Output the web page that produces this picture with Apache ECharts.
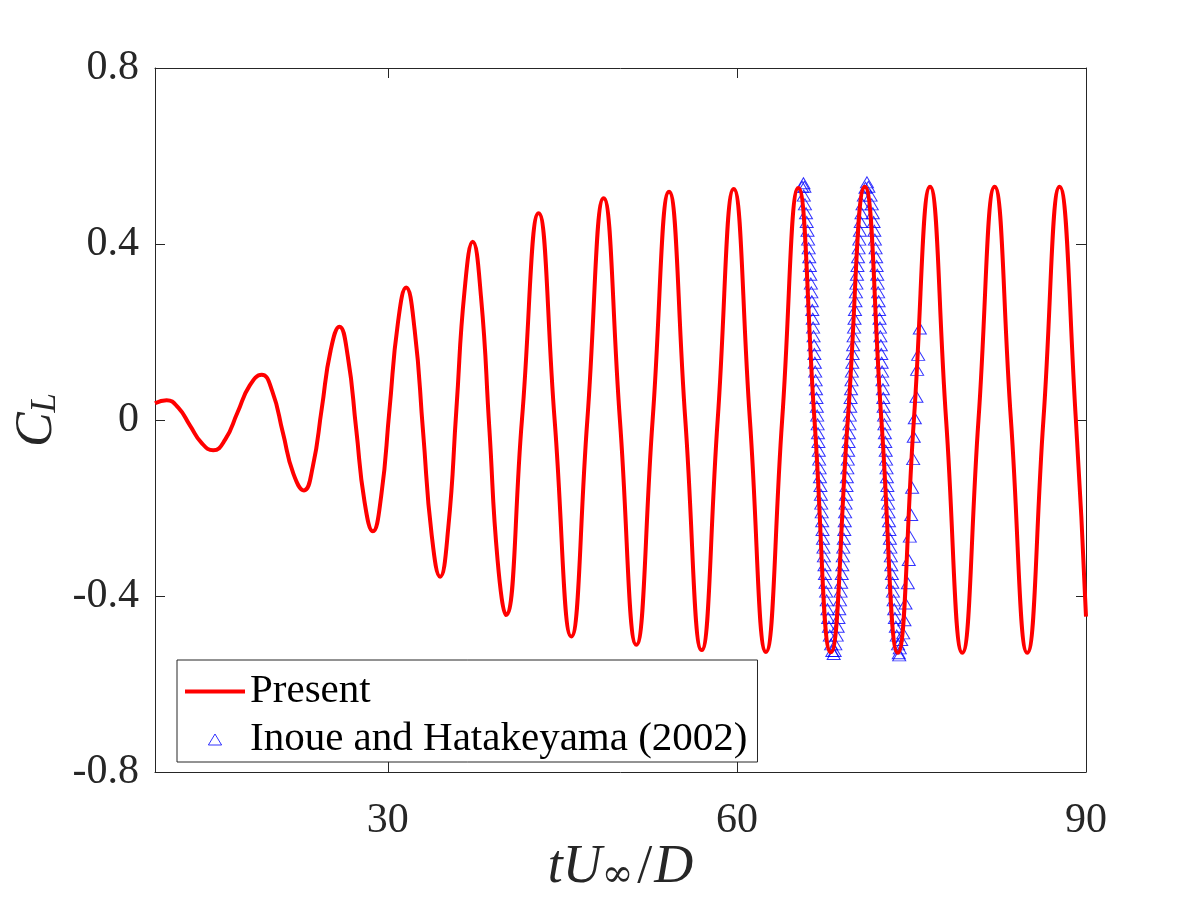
<!DOCTYPE html>
<html>
<head>
<meta charset="utf-8">
<script src="https://cdn.jsdelivr.net/npm/echarts@6/dist/echarts.min.js"></script>
<style>
html,body{margin:0;padding:0;background:#ffffff;}
#chart{width:1200px;height:900px;}
</style>
</head>
<body>
<div id="chart"></div>
<script>
// ---- Data ----
const seriesNames = ['Present', 'Inoue and Hatakeyama (2002)'];

// Present (red line): points (extrema, mid-swing and intermediate points)
const presentT = [10, 11.0, 12.0, 13.0, 14.0, 15.0, 16.04, 17.09, 18.13, 19.17, 20.08, 20.99, 21.89, 22.8,
  23.56, 24.33, 25.09, 25.85, 26.57, 27.29, 28.0, 28.72, 29.44, 30.15, 30.87, 31.58, 32.31, 33.04, 33.77, 34.5,
  35.2, 35.9, 36.6, 37.3, 38.01, 38.73, 39.44, 40.15,
  41.53, 42.96, 44.34, 45.77, 47.15, 48.55, 49.95, 51.36, 52.76, 54.17, 55.57, 56.97, 58.35, 59.73,
  61.12, 62.5, 63.89, 65.28, 66.67, 68.07, 69.53, 71.0, 72.42, 73.83, 75.21, 76.6, 77.98, 79.37, 80.76, 82.15,
  83.55, 84.95, 86.34, 87.73, 89.13, 90];
const presentCL = [0.038, 0.045, 0.028, -0.012, -0.052, -0.069, -0.044, 0.017, 0.078, 0.103, 0.065, -0.029, -0.122, -0.160,
  -0.106, 0.026, 0.158, 0.212, 0.144, -0.021, -0.185, -0.253, -0.172, 0.024, 0.220, 0.301, 0.205, -0.028, -0.260, -0.356,
  -0.245, 0.025, 0.294, 0.405, 0.281, -0.019, -0.319, -0.443,
  0, 0.470, 0, -0.492, 0, 0.504, 0, -0.511, 0, 0.519, 0, -0.523, 0, 0.525,
  0, -0.527, 0, 0.527, 0, -0.528, 0, 0.530, 0, -0.529, 0, 0.530, 0, -0.529, 0, 0.530,
  0, -0.529, 0, 0.530, 0, -0.447];

// Inoue and Hatakeyama (2002) (blue triangles)
const inoueT = [
  65.6, 65.72, 65.8,
  65.75, 65.85, 65.94, 66.00, 66.07, 66.12, 66.17, 66.22, 66.27, 66.31, 66.36, 66.40, 66.44, 66.48, 66.52, 66.55, 66.59, 66.63, 66.66, 66.70,
  66.73, 66.77, 66.80, 66.84, 66.87, 66.90, 66.94, 66.97, 67.01, 67.04, 67.07, 67.11, 67.14, 67.18, 67.22, 67.25, 67.29, 67.33, 67.36, 67.40,
  67.44, 67.48, 67.53, 67.57, 67.62, 67.67, 67.72, 67.78, 67.84, 67.91, 67.99, 68.10,
  68.2, 68.32, 68.4,
  68.46, 68.58, 68.66, 68.73, 68.80, 68.86, 68.91, 68.96, 69.01, 69.06, 69.10, 69.14, 69.19, 69.23, 69.27, 69.30, 69.34, 69.38, 69.42, 69.45,
  69.49, 69.53, 69.56, 69.60, 69.63, 69.67, 69.70, 69.74, 69.77, 69.81, 69.85, 69.88, 69.92, 69.95, 69.99, 70.03, 70.07, 70.11, 70.15, 70.19,
  70.23, 70.27, 70.32, 70.36, 70.41, 70.46, 70.52, 70.57, 70.64, 70.71, 70.80, 70.91,
  71.05, 71.18, 71.3,
  71.49, 71.59, 71.68, 71.75, 71.81, 71.86, 71.92, 71.97, 72.01, 72.06, 72.10, 72.14, 72.18, 72.22, 72.26, 72.30, 72.33, 72.37, 72.41, 72.44,
  72.48, 72.51, 72.55, 72.58, 72.61, 72.65, 72.68, 72.72, 72.75, 72.79, 72.82, 72.86, 72.89, 72.93, 72.96, 73.00, 73.03, 73.07, 73.11, 73.15,
  73.19, 73.23, 73.27, 73.32, 73.36, 73.41, 73.47, 73.52, 73.58, 73.66, 73.74, 73.85,
  73.95,
  73.91, 74.0, 74.12, 74.29, 74.4, 74.49, 74.69, 74.77, 74.86, 74.98, 75.06, 75.15, 75.2, 75.29, 75.43, 75.49, 75.58, 75.72
];
const inoueCL = [
  0.53, 0.538, 0.53,
  0.51, 0.49, 0.47, 0.45, 0.43, 0.41, 0.39, 0.37, 0.35, 0.33, 0.31, 0.29, 0.27, 0.25, 0.23, 0.21, 0.19, 0.17, 0.15, 0.13,
  0.11, 0.09, 0.07, 0.05, 0.03, 0.01, -0.01, -0.03, -0.05, -0.07, -0.09, -0.11, -0.13, -0.15, -0.17, -0.19, -0.21, -0.23, -0.25, -0.27,
  -0.29, -0.31, -0.33, -0.35, -0.37, -0.39, -0.41, -0.43, -0.45, -0.47, -0.49, -0.51,
  -0.525, -0.532, -0.525,
  -0.51, -0.49, -0.47, -0.45, -0.43, -0.41, -0.39, -0.37, -0.35, -0.33, -0.31, -0.29, -0.27, -0.25, -0.23, -0.21, -0.19, -0.17, -0.15, -0.13,
  -0.11, -0.09, -0.07, -0.05, -0.03, -0.01, 0.01, 0.03, 0.05, 0.07, 0.09, 0.11, 0.13, 0.15, 0.17, 0.19, 0.21, 0.23, 0.25, 0.27,
  0.29, 0.31, 0.33, 0.35, 0.37, 0.39, 0.41, 0.43, 0.45, 0.47, 0.49, 0.51,
  0.528, 0.54, 0.53,
  0.51, 0.49, 0.47, 0.45, 0.43, 0.41, 0.39, 0.37, 0.35, 0.33, 0.31, 0.29, 0.27, 0.25, 0.23, 0.21, 0.19, 0.17, 0.15, 0.13,
  0.11, 0.09, 0.07, 0.05, 0.03, 0.01, -0.01, -0.03, -0.05, -0.07, -0.09, -0.11, -0.13, -0.15, -0.17, -0.19, -0.21, -0.23, -0.25, -0.27,
  -0.29, -0.31, -0.33, -0.35, -0.37, -0.39, -0.41, -0.43, -0.45, -0.47, -0.49, -0.51,
  -0.535,
  -0.530, -0.519, -0.5, -0.485, -0.455, -0.417, -0.371, -0.318, -0.265, -0.216, -0.154, -0.089, -0.038, 0.004, 0.053, 0.114, 0.148, 0.208
];

// Axis ticks
const xTickValues = [30, 60, 90];
const xTopTickValues = [30, 60];
const yTickValues = [-0.8, -0.4, 0, 0.4, 0.8];

// ---- Chart ----
const presentData = presentT.map((t, i) => [t, presentCL[i]]);
const inoueData = inoueT.map((t, i) => [t, inoueCL[i]]);

const axisColor = '#262626';
const serif = '"Liberation Serif", "Times New Roman", "DejaVu Serif", serif';

const chart = echarts.init(document.getElementById('chart'), null, { renderer: 'canvas' });

const option = {
  animation: false,
  backgroundColor: '#ffffff',
  grid: { left: 155, right: 114, top: 68, bottom: 128, containLabel: false, outerBoundsMode: 'none', show: false },
  legend: {
    left: 177, top: 660, orient: 'vertical',
    padding: [11, 10, 2, 8], itemGap: 7, itemWidth: 60, itemHeight: 11,
    symbolKeepAspect: true,
    backgroundColor: '#ffffff', borderColor: axisColor, borderWidth: 1, borderRadius: 0,
    selectedMode: false,
    textStyle: { fontSize: 41, lineHeight: 40, fontFamily: serif, color: '#000000' },
    data: [
      { name: seriesNames[0], icon: 'path://M0,0L60,0L60,4L0,4Z', itemStyle: { color: '#ff0000', borderWidth: 0 } },
      { name: seriesNames[1], icon: 'path://M6,0L12,10L0,10Z',
        itemStyle: { color: 'rgba(0,0,0,0)', borderColor: '#0000ff', borderWidth: 1 } }
    ]
  },
  xAxis: [{
    type: 'value', min: 10, max: 90, position: 'bottom',
    name: '{i|tU}{s|∞}{n|/}{i|D}', nameLocation: 'middle', nameGap: 69, nameMoveOverlap: false,
    nameTextStyle: {
      color: axisColor,
      rich: {
        i: { fontFamily: serif, fontStyle: 'italic', fontSize: 54, lineHeight: 54, verticalAlign: 'top', color: axisColor },
        n: { fontFamily: serif, fontSize: 54, lineHeight: 54, verticalAlign: 'top', color: axisColor, padding: [0, 2, 0, 2] },
        s: { fontFamily: '"DejaVu Serif", serif', fontSize: 38, lineHeight: 38, padding: [22, 2, 0, 0], verticalAlign: 'bottom', color: axisColor }
      }
    },
    axisLine: { show: true, onZero: false, lineStyle: { color: axisColor, width: 1 } },
    axisTick: { show: true, inside: true, length: 10, customValues: xTickValues, lineStyle: { color: axisColor, width: 1 } },
    axisLabel: { show: true, customValues: xTickValues, margin: 28, fontSize: 42, fontFamily: serif, color: axisColor },
    splitLine: { show: false }
  }, {
    type: 'value', min: 10, max: 90, position: 'top',
    axisLine: { show: true, onZero: false, lineStyle: { color: axisColor, width: 1 } },
    axisTick: { show: true, inside: true, length: 10, customValues: xTopTickValues, lineStyle: { color: axisColor, width: 1 } },
    axisLabel: { show: false },
    splitLine: { show: false }
  }],
  yAxis: [{
    type: 'value', min: -0.8, max: 0.8, interval: 0.4, position: 'left',
    name: '{c|C}{s|L}', nameLocation: 'middle', nameRotate: 90, nameGap: 92, nameMoveOverlap: false,
    nameTextStyle: {
      color: axisColor,
      rich: {
        c: { fontFamily: serif, fontStyle: 'italic', fontSize: 52, lineHeight: 52, verticalAlign: 'top', color: axisColor },
        s: { fontFamily: serif, fontStyle: 'italic', fontSize: 35, lineHeight: 35, padding: [22, 0, 0, 0], verticalAlign: 'bottom', color: axisColor }
      }
    },
    axisLine: { show: true, onZero: false, lineStyle: { color: axisColor, width: 1 } },
    axisTick: { show: true, inside: true, length: 10, customValues: yTickValues, lineStyle: { color: axisColor, width: 1 } },
    axisLabel: {
      show: true, customValues: yTickValues, margin: 16, fontSize: 42, fontFamily: serif, color: axisColor,
      padding: [4, 0, 0, 0],
      formatter: v => String(Math.round(v * 10) / 10)
    },
    splitLine: { show: false }
  }, {
    type: 'value', min: -0.8, max: 0.8, interval: 0.4, position: 'right',
    axisLine: { show: true, onZero: false, lineStyle: { color: axisColor, width: 1 } },
    axisTick: { show: true, inside: true, length: 10, customValues: yTickValues, lineStyle: { color: axisColor, width: 1 } },
    axisLabel: { show: false },
    splitLine: { show: false }
  }],
  series: [{
    name: seriesNames[0], type: 'line', xAxisIndex: 0, yAxisIndex: 0,
    data: presentData, smooth: 0.5, symbol: 'none', showSymbol: false,
    lineStyle: { color: '#ff0000', width: 4 }, itemStyle: { color: '#ff0000' },
    z: 3
  }, {
    name: seriesNames[1], type: 'scatter', xAxisIndex: 0, yAxisIndex: 0,
    data: inoueData, symbol: 'triangle', symbolSize: [13, 11],
    itemStyle: { color: 'rgba(0,0,0,0)', borderColor: '#0000ff', borderWidth: 1 },
    z: 2
  }]
};
chart.setOption(option);
</script>
</body>
</html>
